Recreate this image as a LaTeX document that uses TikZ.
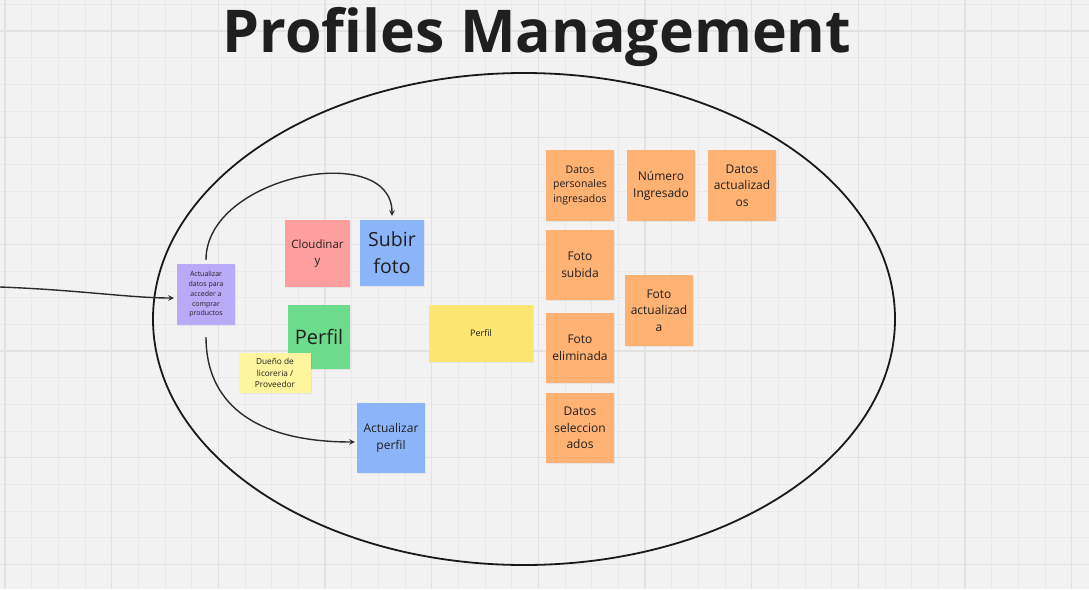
\documentclass[tikz,border=0pt]{standalone}
\usepackage{fontspec}
\setmainfont{Open Sans}
\usepackage{tikz}
\usetikzlibrary{arrows, shadows}
\definecolor{bgcol}{HTML}{F2F2F2}
\definecolor{gridmin}{HTML}{E9E9E9}
\definecolor{gridmaj}{HTML}{E2E2E2}
\definecolor{txtcol}{HTML}{1F1F1F}
\definecolor{linecol}{HTML}{2B2B2B}
\definecolor{purplenote}{HTML}{B9AAF8}
\definecolor{pinknote}{HTML}{FF9E9E}
\definecolor{bluenote}{HTML}{8BB5F8}
\definecolor{greennote}{HTML}{6CDB8B}
\definecolor{palenote}{HTML}{FFF59E}
\definecolor{yellownote}{HTML}{FDE572}
\definecolor{orangenote}{HTML}{FFB273}
\tikzstyle{note}=[inner sep=1pt, align=center, text=txtcol, drop shadow={opacity=.12, shadow xshift=.8pt, shadow yshift=-1.4pt}]
\tikzstyle{flow}=[->, line width=1.4pt, draw=linecol]
\tikzset{>=stealth}

\begin{document}
\begin{tikzpicture}[x=1pt, y=-1pt]
\useasboundingbox (0,0) rectangle (1089,589);
\fill[bgcol] (0,0) rectangle (1089,589);
\foreach \xx in {5,31.667,...,1089} \draw[gridmin, line width=.8pt] (\xx,0) -- (\xx,589);
\foreach \yy in {4.3,30.967,...,589} \draw[gridmin, line width=.8pt] (0,\yy) -- (1089,\yy);
\foreach \xx in {5,111.667,...,1089} \draw[gridmaj, line width=1.1pt] (\xx,0) -- (\xx,589);
\foreach \yy in {31,137.667,...,589} \draw[gridmaj, line width=1.1pt] (0,\yy) -- (1089,\yy);

\node[text=txtcol, font=\fontsize{59}{60}\selectfont\bfseries, anchor=base] (title) at (537,52) {Profiles Management};
\draw[line width=1.8pt, black!90] (524,319) ellipse [x radius=371, y radius=246];

\node[note, fill=purplenote, minimum width=58pt, minimum height=61pt, font=\fontsize{7}{9.7}\selectfont] (upd) at (206,294.5) {Actualizar\\datos para\\acceder a\\comprar\\productos};
\node[note, fill=pinknote, minimum width=65pt, minimum height=67pt, font=\fontsize{11.5}{16.5}\selectfont] (cloud) at (317.5,253.5) {Cloudinar\\y};
\node[note, fill=bluenote, minimum width=64pt, minimum height=66pt, font=\fontsize{19.5}{27}\selectfont] (subir) at (392,253) {Subir\\foto};
\node[note, fill=greennote, minimum width=62pt, minimum height=64pt, font=\fontsize{20}{27}\selectfont] (perfil) at (319,337) {Perfil};
\node[note, fill=palenote, minimum width=72pt, minimum height=40pt, font=\fontsize{8.3}{11.5}\selectfont] (dueno) at (275,373) {Dueño de\\licoreria /\\Proveedor};
\node[note, fill=bluenote, minimum width=68pt, minimum height=70pt, font=\fontsize{12}{16.5}\selectfont] (actperfil) at (391,438) {Actualizar\\perfil};
\node[note, fill=yellownote, minimum width=104pt, minimum height=57pt, font=\fontsize{9}{12}\selectfont] (perfilw) at (481,333.5) {Perfil};

\node[note, fill=orangenote, minimum width=68pt, minimum height=71pt, font=\fontsize{10.5}{14.7}\selectfont] (datosper) at (580,185.5) {Datos\\personales\\ingresados};
\node[note, fill=orangenote, minimum width=68pt, minimum height=71pt, font=\fontsize{12}{16.7}\selectfont] (numero) at (661,185.5) {Número\\Ingresado};
\node[note, fill=orangenote, minimum width=68pt, minimum height=71pt, font=\fontsize{12}{16.5}\selectfont] (datosact) at (742,185.5) {Datos\\actualizad\\os};
\node[note, fill=orangenote, minimum width=68pt, minimum height=70pt, font=\fontsize{12}{16.5}\selectfont] (fotosub) at (580,265) {Foto\\subida};
\node[note, fill=orangenote, minimum width=68pt, minimum height=71pt, font=\fontsize{12}{16.5}\selectfont] (fotoact) at (659,310.5) {Foto\\actualizad\\a};
\node[note, fill=orangenote, minimum width=68pt, minimum height=70pt, font=\fontsize{12}{16.5}\selectfont] (fotoelim) at (580,348) {Foto\\eliminada};
\node[note, fill=orangenote, minimum width=68pt, minimum height=70pt, font=\fontsize{12}{16.5}\selectfont] (datossel) at (580,428) {Datos\\seleccion\\ados};

\coordinate (entry) at (0,287);
\draw[flow, shorten >=3pt] (entry) .. controls (80,290) and (130,298) .. ([yshift=-3.5pt]upd.west);
\draw[flow, shorten <=4pt, shorten >=4pt] (upd.north) .. controls (206,175) and (392,140) .. (subir.north);
\draw[flow, shorten <=12pt, shorten >=2pt] (upd.south) .. controls (206,400) and (250,442) .. ([yshift=-4pt]actperfil.west);
\end{tikzpicture}
\end{document}
